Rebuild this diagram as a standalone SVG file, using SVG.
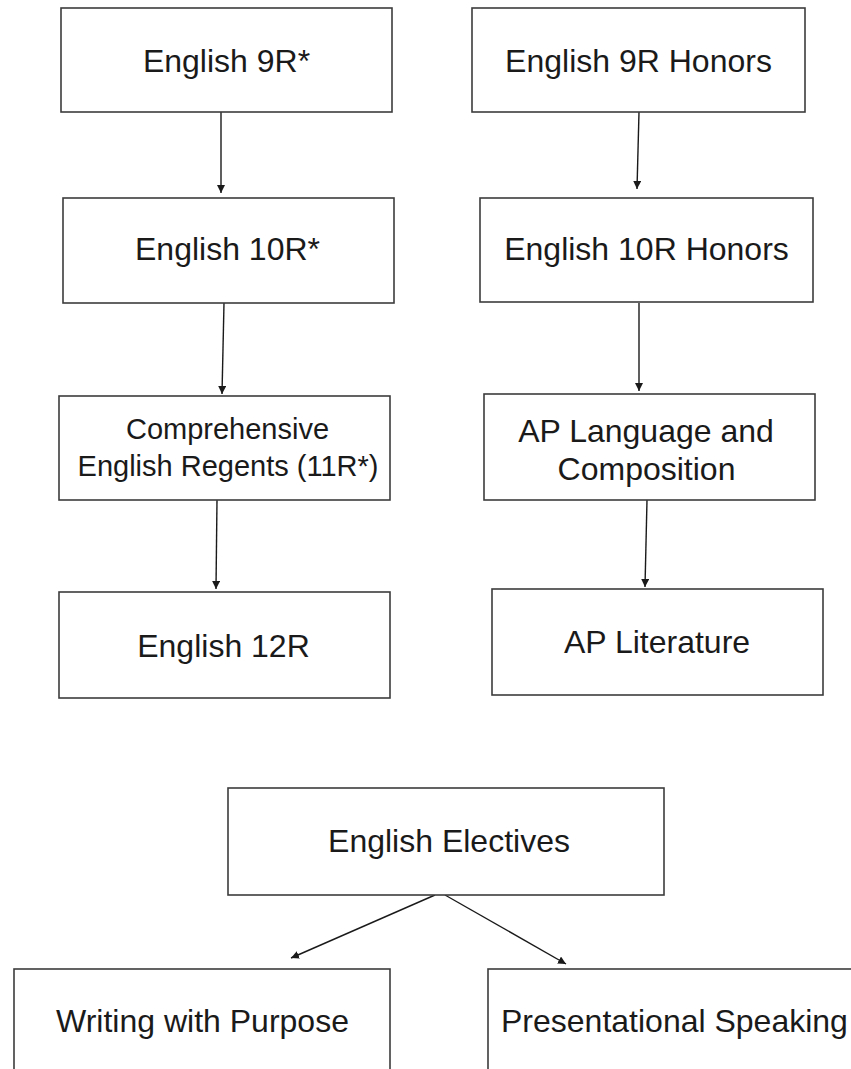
<svg xmlns="http://www.w3.org/2000/svg" width="851" height="1069" viewBox="0 0 851 1069">
<style>
.box{fill:#fff;stroke:#3c3c3c;stroke-width:1.6}
.t{font-family:"Liberation Sans",Arial,sans-serif;font-size:32px;fill:#1a1a1a;text-anchor:middle}
.s{font-size:29px}
.c{fill:none;stroke:#1a1a1a;stroke-width:1.4}
</style>
<defs>
<marker id="ah" viewBox="0 0 10 10" refX="10" refY="5" markerWidth="8" markerHeight="8" markerUnits="userSpaceOnUse" orient="auto">
<path d="M0,0 L10,5 L0,10 z" fill="#1a1a1a"/>
</marker>
</defs>
<rect width="851" height="1069" fill="#fff"/>
<g id="connectors">
<line class="c" x1="221" y1="112" x2="221" y2="193" marker-end="url(#ah)"/>
<line class="c" x1="639" y1="112" x2="637" y2="189" marker-end="url(#ah)"/>
<line class="c" x1="224" y1="303" x2="222" y2="394" marker-end="url(#ah)"/>
<line class="c" x1="639" y1="303" x2="639" y2="391" marker-end="url(#ah)"/>
<line class="c" x1="217" y1="500" x2="216" y2="589" marker-end="url(#ah)"/>
<line class="c" x1="647" y1="500" x2="645" y2="587" marker-end="url(#ah)"/>
<line class="c" x1="435" y1="895" x2="291" y2="958" marker-end="url(#ah)"/>
<line class="c" x1="445" y1="895" x2="566" y2="964" marker-end="url(#ah)"/>
</g>
<g id="english9r">
<rect class="box" x="61" y="8" width="331" height="104"/>
<text class="t" x="226.5" y="72">English 9R*</text>
</g>
<g id="english10r">
<rect class="box" x="63" y="198" width="331" height="105"/>
<text class="t" x="227.5" y="260">English 10R*</text>
</g>
<g id="comprehensive">
<rect class="box" x="59" y="396" width="331" height="104"/>
<text class="t s" x="227.5" y="439">Comprehensive</text>
<text class="t s" x="228" y="476">English Regents (11R*)</text>
</g>
<g id="english12r">
<rect class="box" x="59" y="592" width="331" height="106"/>
<text class="t" x="223.5" y="657">English 12R</text>
</g>
<g id="english9rh">
<rect class="box" x="472" y="8" width="333" height="104"/>
<text class="t" x="638.5" y="72">English 9R Honors</text>
</g>
<g id="english10rh">
<rect class="box" x="480" y="198" width="333" height="104"/>
<text class="t" x="646.5" y="260">English 10R Honors</text>
</g>
<g id="aplang">
<rect class="box" x="484" y="394" width="331" height="106"/>
<text class="t" x="646" y="442">AP Language and</text>
<text class="t" x="646.5" y="480">Composition</text>
</g>
<g id="aplit">
<rect class="box" x="492" y="589" width="331" height="106"/>
<text class="t" x="657" y="653">AP Literature</text>
</g>
<g id="electives">
<rect class="box" x="228" y="788" width="436" height="107"/>
<text class="t" x="449" y="852">English Electives</text>
</g>
<g id="writing">
<rect class="box" x="14" y="969" width="376" height="110"/>
<text class="t" x="202.5" y="1032">Writing with Purpose</text>
</g>
<g id="presentational">
<rect class="box" x="488" y="969" width="380" height="110"/>
<text class="t" x="501" y="1032" style="text-anchor:start">Presentational Speaking</text>
</g>
</svg>
